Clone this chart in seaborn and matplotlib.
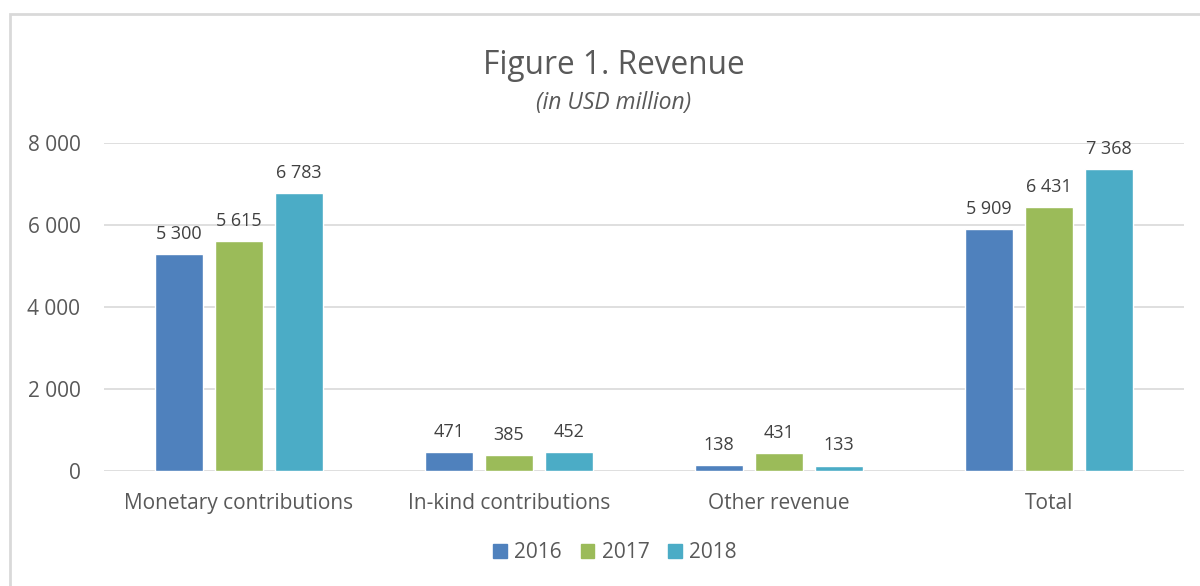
import pandas as pd
import seaborn as sns
import matplotlib.pyplot as plt
from matplotlib.patches import Rectangle
from matplotlib.ticker import FuncFormatter

categories = ["Monetary contributions", "In-kind contributions", "Other revenue", "Total"]
years = ["2016", "2017", "2018"]
rev_2016 = [5300, 471, 138, 5909]
rev_2017 = [5615, 385, 431, 6431]
rev_2018 = [6783, 452, 133, 7368]
colors = ["#4F81BD", "#9BBB59", "#4BACC6"]

df = pd.DataFrame({
    "category": categories * 3,
    "year": [y for y in years for _ in categories],
    "value": rev_2016 + rev_2017 + rev_2018,
})

sns.set_style("white")
plt.rcParams["font.family"] = ["Open Sans", "DejaVu Sans"]
grey = "#595959"

fig = plt.figure(figsize=(12, 5.86), dpi=100)
ax = fig.add_axes([104 / 1200, 1 - 471 / 586, 1080 / 1200, 328 / 586])

sns.barplot(data=df, x="category", y="value", hue="year", palette=colors,
            width=0.667, gap=0.2, ax=ax, saturation=1, legend=False)

def spaced(v, pos=None):
    return f"{v:,.0f}".replace(",", " ")

for cont in ax.containers:
    ax.bar_label(cont, labels=[spaced(b.get_height()) for b in cont],
                 padding=8, fontsize=13, color="#404040")

ax.set_ylim(0, 8000)
ax.set_xlim(-0.5, 3.5)
ax.set_yticks([0, 2000, 4000, 6000, 8000])
ax.yaxis.set_major_formatter(FuncFormatter(spaced))
ax.grid(axis="y", color="#D9D9D9", linewidth=1.2)
ax.set_axisbelow(True)
for s in ax.spines.values():
    s.set_visible(False)
ax.set_xlabel("")
ax.set_ylabel("")
ax.tick_params(axis="both", length=0, labelsize=15, labelcolor=grey)
ax.tick_params(axis="y", pad=17)
ax.tick_params(axis="x", pad=16)

# titles
fig.text(614 / 1200, 1 - 66 / 586, "Figure 1. Revenue", ha="center", va="center",
         fontsize=22.8, color=grey)
fig.text(614 / 1200, 1 - 103 / 586, "(in USD million)", ha="center", va="center",
         fontsize=16.5, style="italic", color=grey)

# legend
handles = [Rectangle((0, 0), 1, 1, color=c) for c in colors]
fig.legend(handles, years, loc="center", bbox_to_anchor=(615 / 1200, 1 - 553 / 586),
           ncol=3, frameon=False, fontsize=15, labelcolor=grey,
           handlelength=0.65, handleheight=0.65, handletextpad=0.35, columnspacing=0.9)

# chart border
fig.patches.append(Rectangle((10 / 1200, -0.1), 1.2, (586 - 14) / 586 + 0.1,
                             transform=fig.transFigure, fill=False,
                             edgecolor="#D9D9D9", linewidth=2))

fig.savefig("out.png", dpi=100)
